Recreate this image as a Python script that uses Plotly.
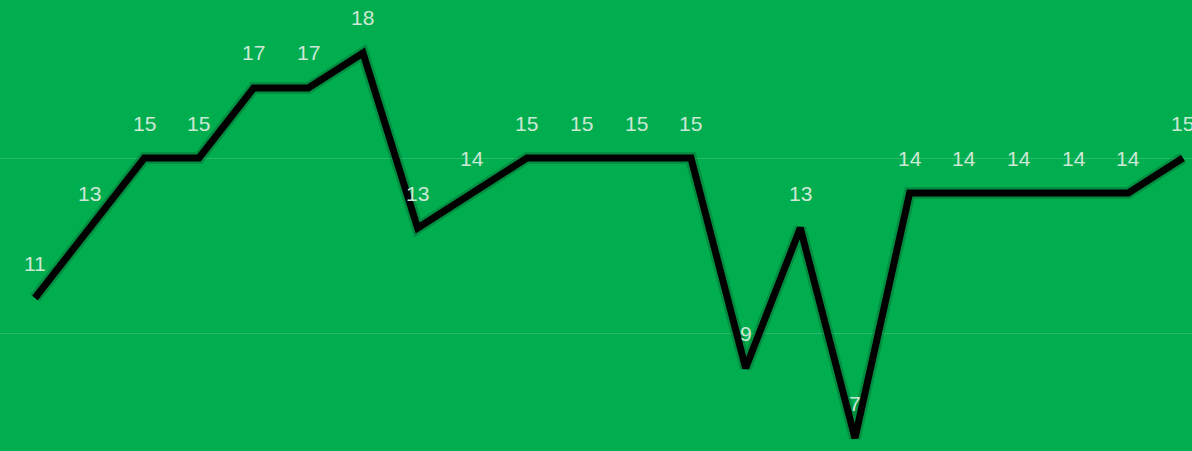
import plotly.graph_objects as go

categories = list(range(22))
values = [11, 13, 15, 15, 17, 17, 18, 13, 14, 15, 15, 15, 15, 9, 13, 7, 14, 14, 14, 14, 14, 15]
labels = [str(v) for v in values]

BG = "#00AE50"

fig = go.Figure()
# soft shadow / halo
fig.add_trace(go.Scatter(x=categories, y=values, mode="lines",
                         line=dict(color="rgba(0,0,0,0.18)", width=12),
                         hoverinfo="skip", showlegend=False))
fig.add_trace(go.Scatter(x=categories, y=values, mode="lines",
                         line=dict(color="#000000", width=7),
                         showlegend=False))

for c, v, t in zip(categories, values, labels):
    fig.add_annotation(x=c, y=v, text=t, showarrow=False, yshift=35,
                       font=dict(family="Liberation Sans, Arial", size=21, color="#cfe8d6"))

fig.update_layout(
    width=1192, height=451,
    margin=dict(l=0, r=0, t=0, b=0),
    paper_bgcolor=BG, plot_bgcolor=BG,
    showlegend=False,
    xaxis=dict(range=[-0.64, 21.165], visible=False),
    yaxis=dict(range=[6.629, 19.514], tickvals=[5, 10, 15, 20], showticklabels=False,
               showgrid=True, gridcolor="rgba(255,255,255,0.15)", gridwidth=1,
               zeroline=False, showline=False),
)
fig.write_html("out.html")
